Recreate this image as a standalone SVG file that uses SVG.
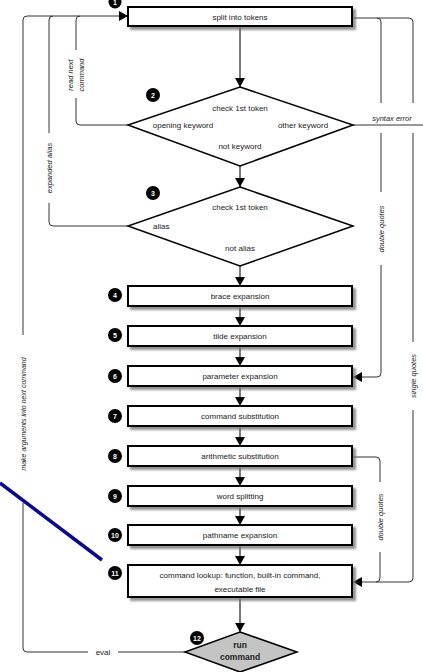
<svg xmlns="http://www.w3.org/2000/svg" width="423" height="672" viewBox="0 0 423 672">
<style>
text{font-family:"Liberation Sans",Arial,sans-serif;fill:#222}
.bx{fill:#fff;stroke:#000;stroke-width:2}
.dm{fill:#fff;stroke:#000;stroke-width:1.5}
.t{font-size:8px;text-anchor:middle}
.it{font-size:7.5px;font-style:italic;text-anchor:middle}
.ln{fill:none;stroke:#333;stroke-width:1}
.ar{fill:none;stroke:#222;stroke-width:1.2}
.bd circle{fill:#000}
.bd text{fill:#fff;font-size:7px;font-weight:bold;text-anchor:middle}
</style>
<defs>
<marker id="ah" markerUnits="userSpaceOnUse" markerWidth="9" markerHeight="10" refX="9" refY="5" orient="auto">
<path d="M0,0 L9,5 L0,10 Z" fill="#000"/>
</marker>
<filter id="sh" x="-10%" y="-30%" width="120%" height="180%">
<feDropShadow dx="3" dy="3" stdDeviation="1.2" flood-color="#777" flood-opacity="0.8"/>
</filter>
</defs>

<g id="connectors">
<line class="ar" x1="240" y1="26" x2="240" y2="87" marker-end="url(#ah)"/>
<line class="ar" x1="240" y1="166" x2="240" y2="187" marker-end="url(#ah)"/>
<line class="ar" x1="240" y1="266" x2="240" y2="286" marker-end="url(#ah)"/>
<line class="ar" x1="240" y1="306" x2="240" y2="326" marker-end="url(#ah)"/>
<line class="ar" x1="240" y1="346" x2="240" y2="366" marker-end="url(#ah)"/>
<line class="ar" x1="240" y1="386" x2="240" y2="406" marker-end="url(#ah)"/>
<line class="ar" x1="240" y1="426" x2="240" y2="446" marker-end="url(#ah)"/>
<line class="ar" x1="240" y1="466" x2="240" y2="486" marker-end="url(#ah)"/>
<line class="ar" x1="240" y1="506" x2="240" y2="525" marker-end="url(#ah)"/>
<line class="ar" x1="240" y1="545" x2="240" y2="565" marker-end="url(#ah)"/>
<line class="ar" x1="240" y1="597" x2="240" y2="632" marker-end="url(#ah)"/>
<!-- left loops -->
<path class="ln" d="M23,335 V20 Q23,16 27,16 H128" marker-end="url(#ah)"/>
<path class="ln" d="M49,133 V20 Q49,16 53,16"/>
<path class="ln" d="M76,50 V20 Q76,16 80,16"/>
<path class="ln" d="M128,125 H80 Q76,125 76,121 V98"/>
<path class="ln" d="M128,226 H53 Q49,226 49,222 V203"/>
<path class="ln" d="M23,503 V648 Q23,652 27,652 H88"/>
<path class="ln" d="M118,652 H185"/>
<!-- right loops -->
<path class="ln" d="M352,18 H409 Q413,18 413,22 V103"/>
<path class="ln" d="M377,18 Q381,18 381,22 V103"/>
<path class="ln" d="M353,125 H423"/>
<path class="ln" d="M381,133 V192"/>
<path class="ln" d="M381,265 V373 Q381,377 377,377 H353" marker-end="url(#ah)"/>
<path class="ln" d="M413,133 V342"/>
<path class="ln" d="M413,410 V578 Q413,582 409,582 H353" marker-end="url(#ah)"/>
<path class="ln" d="M352,457 H376 Q380,457 380,461 V482"/>
<path class="ln" d="M380,552 V578 Q380,582 376,582"/>
<!-- labels -->
<text class="it" transform="translate(76,75) rotate(-90)"><tspan x="0" y="-3">read next</tspan><tspan x="0" y="8">command</tspan></text>
<text class="it" transform="translate(49,168) rotate(-90)" y="3">expanded alias</text>
<text class="it" transform="translate(23,414) rotate(-90)" y="3" style="font-size:7px">make arguments into next command</text>
<text class="it" x="392" y="121">syntax error</text>
<text class="it" transform="translate(381,229) rotate(-90)" y="3">double quotes</text>
<text class="it" transform="translate(413,376) rotate(-90)" y="3">single quotes</text>
<text class="it" transform="translate(380,517) rotate(-90)" y="3">double quotes</text>
<text class="t" x="103" y="655">eval</text>
</g>

<g id="n1">
<rect class="bx" x="128" y="7" width="224" height="19" filter="url(#sh)"/>
<text class="t" x="240" y="19.5">split into tokens</text>
<g class="bd"><circle cx="115" cy="2" r="6.5"/><text x="115" y="4.5">1</text></g>
</g>

<g id="n2">
<polygon class="dm" points="240,87 353,125 240,166 128,125"/>
<text class="t" x="240" y="111">check 1st token</text>
<text class="t" x="183" y="128">opening keyword</text>
<text class="t" x="303" y="128">other keyword</text>
<text class="t" x="240" y="149">not keyword</text>
<g class="bd"><circle cx="153" cy="95" r="7"/><text x="153" y="97.5">2</text></g>
</g>

<g id="n3">
<polygon class="dm" points="240,187 353,226 240,266 128,226"/>
<text class="t" x="240" y="210">check 1st token</text>
<text class="t" x="153" y="229" style="text-anchor:start">alias</text>
<text class="t" x="240" y="251">not alias</text>
<g class="bd"><circle cx="153" cy="193" r="7"/><text x="153" y="195.5">3</text></g>
</g>

<g id="n4">
<rect class="bx" x="128" y="286" width="224" height="20" filter="url(#sh)"/>
<text class="t" x="240" y="299">brace expansion</text>
<g class="bd"><circle cx="115" cy="295" r="7"/><text x="115" y="297.5">4</text></g>
</g>

<g id="n5">
<rect class="bx" x="128" y="326" width="224" height="20" filter="url(#sh)"/>
<text class="t" x="240" y="339">tilde expansion</text>
<g class="bd"><circle cx="115" cy="335" r="7"/><text x="115" y="337.5">5</text></g>
</g>

<g id="n6">
<rect class="bx" x="128" y="366" width="224" height="20" filter="url(#sh)"/>
<text class="t" x="240" y="379">parameter expansion</text>
<g class="bd"><circle cx="115" cy="376" r="7"/><text x="115" y="378.5">6</text></g>
</g>

<g id="n7">
<rect class="bx" x="128" y="406" width="224" height="20" filter="url(#sh)"/>
<text class="t" x="240" y="419">command substitution</text>
<g class="bd"><circle cx="115" cy="416" r="7"/><text x="115" y="418.5">7</text></g>
</g>

<g id="n8">
<rect class="bx" x="128" y="446" width="224" height="20" filter="url(#sh)"/>
<text class="t" x="240" y="459">arithmetic substitution</text>
<g class="bd"><circle cx="115" cy="456" r="7"/><text x="115" y="458.5">8</text></g>
</g>

<g id="n9">
<rect class="bx" x="128" y="486" width="224" height="20" filter="url(#sh)"/>
<text class="t" x="240" y="499">word splitting</text>
<g class="bd"><circle cx="115" cy="496" r="7"/><text x="115" y="498.5">9</text></g>
</g>

<g id="n10">
<rect class="bx" x="128" y="525" width="224" height="20" filter="url(#sh)"/>
<text class="t" x="240" y="538">pathname expansion</text>
<g class="bd"><circle cx="115" cy="535" r="7"/><text x="115" y="537.5">10</text></g>
</g>

<g id="n11">
<rect class="bx" x="128" y="565" width="224" height="32" filter="url(#sh)"/>
<text class="t" x="240" y="578">command lookup: function, built-in command,</text>
<text class="t" x="240" y="592">executable file</text>
<g class="bd"><circle cx="115" cy="573" r="7"/><text x="115" y="575.5">11</text></g>
</g>

<g id="n12">
<polygon points="240,632 297,652 240,672 185,652" fill="#c4c4c4" stroke="#000" stroke-width="1.5"/>
<text x="240" y="648" style="font-size:8.5px;font-weight:bold;text-anchor:middle">run</text>
<text x="240" y="660" style="font-size:8.5px;font-weight:bold;text-anchor:middle">command</text>
<g class="bd"><circle cx="197" cy="638" r="7"/><text x="197" y="640.5">12</text></g>
</g>

<line id="blue-line" x1="0" y1="483" x2="102" y2="560" stroke="#0a0a8a" stroke-width="3.5"/>
</svg>
